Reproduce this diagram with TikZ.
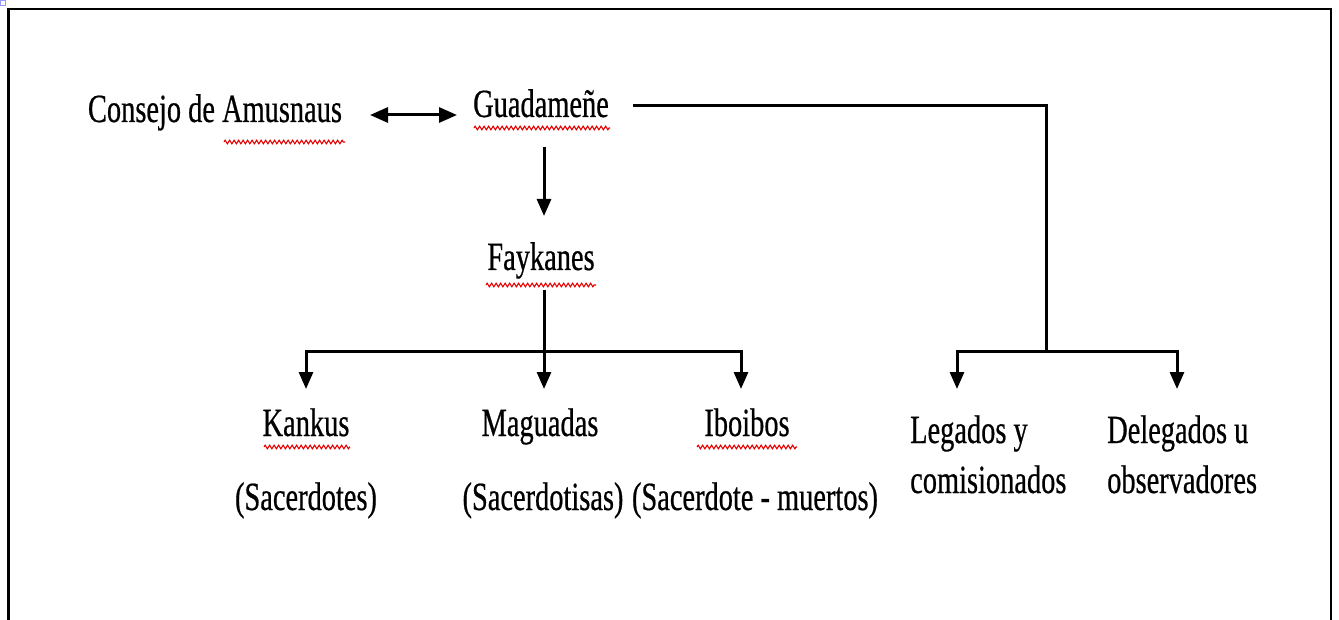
\documentclass[tikz,border=0pt]{standalone}
\usepackage{fontspec}
\newfontfamily\cond[FakeStretch=0.71,FakeBold=0.5]{Liberation Serif}
\usetikzlibrary{arrows.meta,decorations.pathmorphing}
\begin{document}
\begin{tikzpicture}[x=1pt,y=-1pt,
  lbl/.style={font=\cond\fontsize{40}{52}\selectfont, inner sep=0pt, anchor=base},
  lbll/.style={lbl, anchor=base west},
  conn/.style={line width=3pt},
  arr/.style={line width=3pt,-{Triangle[length=17pt,width=14pt]}},
  dblarr/.style={line width=3pt,{Triangle[length=18pt,width=15pt]}-{Triangle[length=18pt,width=15pt]}},
  squig/.style={red!90!black, line width=1.1pt, decorate, decoration={zigzag, segment length=4.5pt, amplitude=1.8pt}}]
\useasboundingbox (0,0) rectangle (1339,620);
% frame
\draw[line width=2.2pt] (8.5,625) -- (8.5,9) -- (1331,9) -- (1331,625);
\draw[blue!40, line width=0.8pt] (0.5,0.5) rectangle (5,5);
% labels
\node[lbl] (consejo) at (215,122) {Consejo de Amusnaus};
\node[lbl] (guad) at (541,117) {Guadameñe};
\node[lbl] (fayk) at (541,270) {Faykanes};
\node[lbl] (kankus) at (306,436) {Kankus};
\node[lbl] (magua) at (540,436) {Maguadas};
\node[lbl] (iboi) at (747,436) {Iboibos};
\node[lbl] (sac1) at (306,510) {(Sacerdotes)};
\node[lbl] (sac2) at (543,510) {(Sacerdotisas)};
\node[lbl] (sac3) at (755,510) {(Sacerdote - muertos)};
\node[lbll] (leg1) at (910,443) {Legados y};
\node[lbll] (leg2) at (910,493) {comisionados};
\node[lbll] (del1) at (1107,443) {Delegados u};
\node[lbll] (del2) at (1107,493) {observadores};
% squiggles
\draw[squig] (224,142) -- (345,142);
\draw[squig] (474,128) -- (610,128);
\draw[squig] (486,285) -- (596,285);
\draw[squig] (264,447) -- (350,447);
\draw[squig] (697,447) -- (797,447);
% junction coordinates
\coordinate (gR) at (633,106);
\coordinate (jTop) at (1046,106);
\coordinate (jR) at (1046,352);
\coordinate (gS) at (544,147);
\coordinate (fT) at (544,216);
\coordinate (fS) at (544,290);
\coordinate (jL) at (544,352);
\coordinate (kT) at (306,389);
\coordinate (mT) at (544,389);
\coordinate (iT) at (741,389);
\coordinate (lT) at (957,389);
\coordinate (dT) at (1177,389);
% connectors
\draw[dblarr] (370,115) coordinate (cR) -- (457,115) coordinate (gL);
\draw[arr] (gS) -- (fT);
\draw[conn] (fS) -- (jL);
\draw[arr] (jL) -| (kT);
\draw[arr] (jL) -| (iT);
\draw[arr] (jL) -- (mT);
\draw[conn] (gR) -- (jTop) -- (jR);
\draw[arr] (jR) -| (lT);
\draw[arr] (jR) -| (dT);
\end{tikzpicture}
\end{document}
